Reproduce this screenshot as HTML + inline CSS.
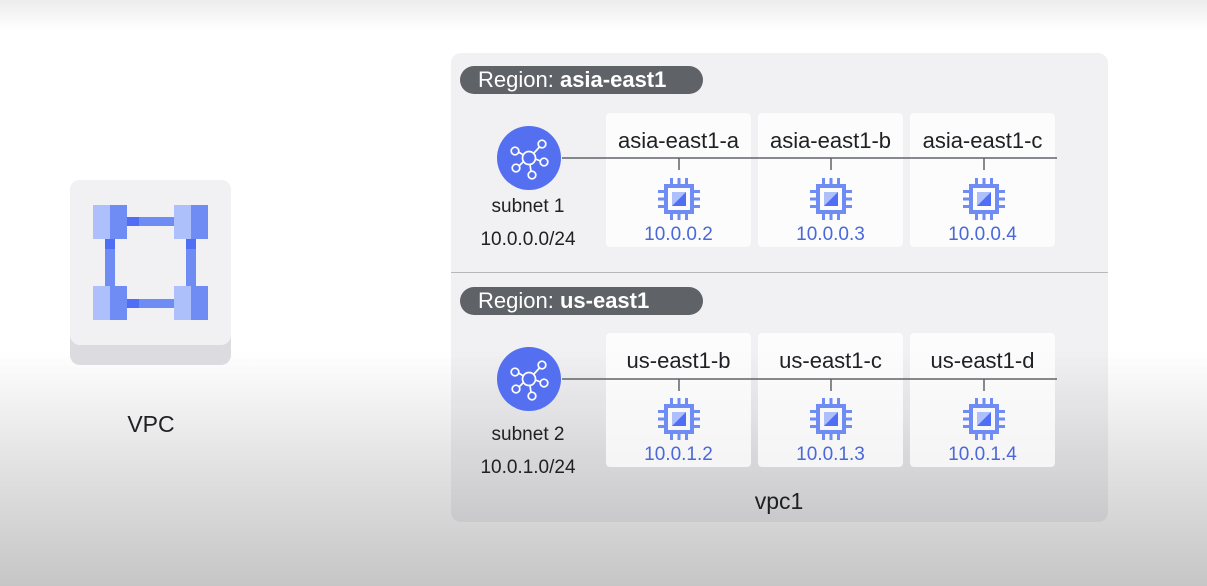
<!DOCTYPE html>
<html><head><meta charset="utf-8"><style>
body{margin:0;width:1207px;height:586px;overflow:hidden;position:relative;font-family:"Liberation Sans",sans-serif;
background:linear-gradient(#ececec 0px,#fff 30px,#fff 350px,#e6e6e6 450px,#c6c6c6 586px);}
.a{position:absolute}
.card{position:absolute;background:rgba(255,255,255,0.75);border-radius:4px;width:145px;height:134px}
.lab{position:absolute;width:145px;text-align:center;font-size:22px;color:#202124;top:15px}
.ip{position:absolute;width:145px;text-align:center;font-size:19px;color:#4a68d8;top:111px}
.pill{position:absolute;left:460px;width:243px;height:28px;border-radius:14px;background:#5f6368;color:#fff;font-size:22px;line-height:28px;box-sizing:border-box;padding-left:18px}
.t{position:absolute;text-align:center;font-size:19px;color:#202124;width:120px}
</style></head><body>
<div class="a" style="left:70px;top:180px;width:161px;height:185px;border-radius:10px;background:#dcdce0"></div>
<div class="a" style="left:70px;top:180px;width:161px;height:165px;border-radius:10px;background:#f1f1f4"></div>
<svg class="a" style="left:0;top:0" width="300" height="400">
<rect x="127" y="217" width="47" height="9" fill="#6f8cf5"/><rect x="127" y="299" width="47" height="9" fill="#6f8cf5"/>
<rect x="105" y="239" width="10" height="47" fill="#6f8cf5"/><rect x="186" y="239" width="10" height="47" fill="#6f8cf5"/>
<rect x="127" y="217" width="12" height="9" fill="#4f6ef5"/><rect x="127" y="299" width="12" height="9" fill="#4f6ef5"/>
<rect x="105" y="239" width="10" height="10" fill="#4f6ef5"/><rect x="186" y="239" width="10" height="10" fill="#4f6ef5"/>
<g><rect x="93" y="205" width="17" height="34" fill="#aec0fb"/><rect x="110" y="205" width="17" height="34" fill="#6f8cf5"/></g>
<g><rect x="174" y="205" width="17" height="34" fill="#aec0fb"/><rect x="191" y="205" width="17" height="34" fill="#6f8cf5"/></g>
<g><rect x="93" y="286" width="17" height="34" fill="#aec0fb"/><rect x="110" y="286" width="17" height="34" fill="#6f8cf5"/></g>
<g><rect x="174" y="286" width="17" height="34" fill="#aec0fb"/><rect x="191" y="286" width="17" height="34" fill="#6f8cf5"/></g>
</svg>
<div class="t" style="left:91px;top:411px;font-size:23px">VPC</div>
<div class="a" style="left:451px;top:53px;width:657px;height:469px;border-radius:10px;background:rgba(60,60,90,0.07)"></div>
<div class="a" style="left:451px;top:272px;width:657px;height:1px;background:#b8b8bc"></div>
<div class="pill" style="top:66px">Region: <b>asia-east1</b></div>
<div class="pill" style="top:287px">Region: <b>us-east1</b></div>

<div class="card" style="left:606px;top:113px"><div class="lab">asia-east1-a</div><div class="ip">10.0.0.2</div></div>
<div class="card" style="left:758px;top:113px"><div class="lab">asia-east1-b</div><div class="ip">10.0.0.3</div></div>
<div class="card" style="left:910px;top:113px"><div class="lab">asia-east1-c</div><div class="ip">10.0.0.4</div></div>
<div class="card" style="left:606px;top:333px"><div class="lab">us-east1-b</div><div class="ip">10.0.1.2</div></div>
<div class="card" style="left:758px;top:333px"><div class="lab">us-east1-c</div><div class="ip">10.0.1.3</div></div>
<div class="card" style="left:910px;top:333px"><div class="lab">us-east1-d</div><div class="ip">10.0.1.4</div></div>

<svg class="a" style="left:0;top:0" width="1207" height="586">
<defs>
<g id="chip">
<rect x="-13" y="-13" width="26" height="26" fill="none" stroke="#6f8cf5" stroke-width="4"/>
<rect x="-7" y="-7" width="14" height="14" fill="#aec0fb"/><path d="M7 -7 L7 7 L-7 7 Z" fill="#4f6ef5"/>
<g fill="#6f8cf5"><rect x="-9" y="-21" width="3" height="6"/><rect x="-1.5" y="-21" width="3" height="6"/><rect x="6" y="-21" width="3" height="6"/>
<rect x="-9" y="15" width="3" height="6"/><rect x="-1.5" y="15" width="3" height="6"/><rect x="6" y="15" width="3" height="6"/>
<rect x="-21" y="-9" width="6" height="3"/><rect x="-21" y="-1.5" width="6" height="3"/><rect x="-21" y="6" width="6" height="3"/>
<rect x="15" y="-9" width="6" height="3"/><rect x="15" y="-1.5" width="6" height="3"/><rect x="15" y="6" width="6" height="3"/></g>
</g>
<g id="hub">
<circle r="32" fill="#5470f0"/>
<g stroke="#fff" stroke-width="1.7" fill="none">
<circle r="6.5"/><circle cx="-14" cy="-7" r="3.8"/><circle cx="13" cy="-14" r="3.8"/><circle cx="15" cy="4" r="3.8"/><circle cx="-13" cy="10" r="3.8"/><circle cx="3" cy="17" r="3.8"/>
<path d="M-5.5 -3 L-10.5 -6 M4.5 -4.5 L10.5 -11 M6.5 1 L11.5 3 M-5.5 3.5 L-10 8 M1 6.5 L2 13.5"/></g>
</g>
</defs>
<g stroke="#5f6368" stroke-width="1.5">
<line x1="562" y1="158" x2="1057" y2="158"/><line x1="679" y1="158" x2="679" y2="170"/><line x1="831" y1="158" x2="831" y2="170"/><line x1="984" y1="158" x2="984" y2="170"/>
<line x1="562" y1="379" x2="1057" y2="379"/><line x1="679" y1="379" x2="679" y2="391"/><line x1="831" y1="379" x2="831" y2="391"/><line x1="984" y1="379" x2="984" y2="391"/>
</g>
<use href="#hub" x="529" y="158"/><use href="#hub" x="529" y="379"/>
<use href="#chip" x="679" y="199"/><use href="#chip" x="831" y="199"/><use href="#chip" x="984" y="199"/>
<use href="#chip" x="679" y="419"/><use href="#chip" x="831" y="419"/><use href="#chip" x="984" y="419"/>
</svg>
<div class="t" style="left:468px;top:196px">subnet 1</div>
<div class="t" style="left:468px;top:229px">10.0.0.0/24</div>
<div class="t" style="left:468px;top:424px">subnet 2</div>
<div class="t" style="left:468px;top:457px">10.0.1.0/24</div>
<div class="t" style="left:719px;top:488px;font-size:23px">vpc1</div>
</body></html>
